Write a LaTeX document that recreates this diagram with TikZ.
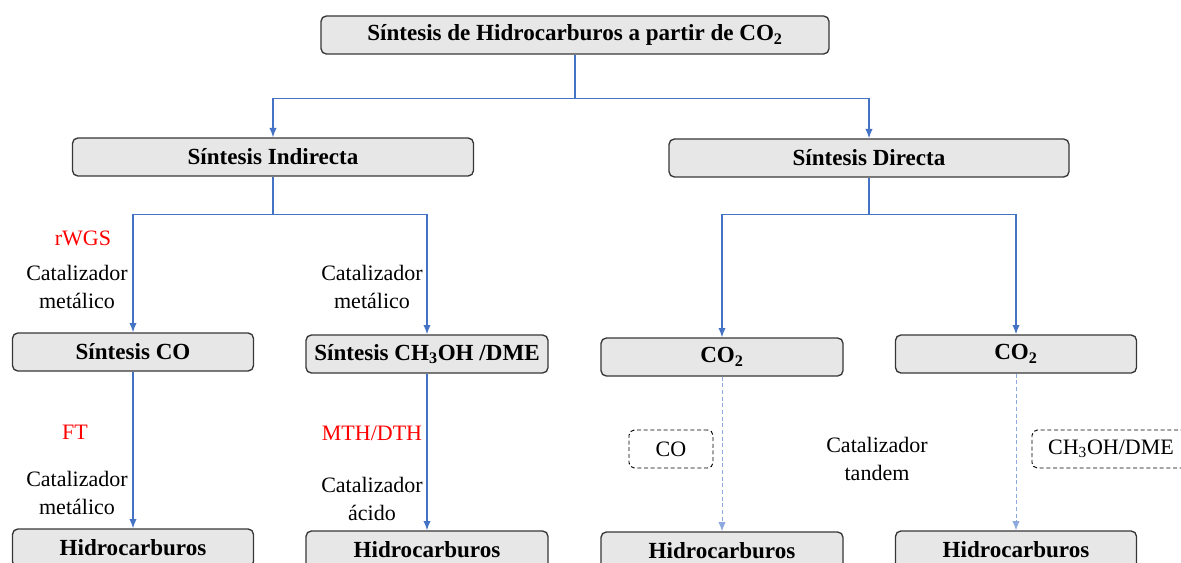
\documentclass[tikz,border=0pt]{standalone}
\usepackage{fontspec}
\setmainfont{Liberation Serif}
\usetikzlibrary{arrows.meta,positioning}
\definecolor{HcBlue}{RGB}{68,114,196}
\definecolor{HcLightBlue}{RGB}{140,168,220}
\definecolor{HcFill}{RGB}{231,231,231}
\definecolor{HcBorder}{RGB}{55,55,55}
\definecolor{HcRed}{RGB}{255,0,0}
\tikzset{
  hc/box/.style={
    draw=HcBorder,
    line width=1pt,
    rounded corners=4pt,
    fill=HcFill,
    align=center,
    minimum height=28.5pt,
    inner sep=2pt,
    font=\fontsize{17.3}{20}\selectfont\bfseries
  },
  hc/dashbox/.style={
    draw=black,
    line width=0.7pt,
    densely dashed,
    rounded corners=4pt,
    fill=white,
    align=center,
    minimum height=28.5pt,
    inner sep=2pt,
    font=\fontsize{16.5}{20}\selectfont
  },
  hc/arrow/.style={-{Latex[length=7pt,width=5.5pt]}, line width=1pt, draw=HcBlue},
  hc/dasharrow/.style={-{Latex[length=7pt,width=5.5pt]}, line width=0.7pt, densely dashed, draw=HcLightBlue},
  hc/label/.style={font=\fontsize{16.5}{21}\selectfont, align=center, text=black},
  hc/redlabel/.style={font=\fontsize{16.5}{21}\selectfont, align=center, text=HcRed}
}
\begin{document}
\begin{tikzpicture}[x=0.75pt,y=-0.75pt]
  \clip (0,0) rectangle (1181,563);
  % main boxes
  \node[hc/box,minimum width=381pt] (main) at (575,35) {Síntesis de Hidrocarburos a partir de CO\textsubscript{2}};
  \node[hc/box,minimum width=300.75pt] (indir) at (273,157) {Síntesis Indirecta};
  \node[hc/box,minimum width=300pt] (dir) at (869,158) {Síntesis Directa};
  \node[hc/box,minimum width=180.75pt] (sco) at (133,352) {Síntesis CO};
  \node[hc/box,minimum width=181.5pt] (sme) at (427,354) {Síntesis CH\textsubscript{3}OH /DME};
  \node[hc/box,minimum width=181.5pt] (coa) at (722,357) {CO\textsubscript{2}};
  \node[hc/box,minimum width=180.75pt] (cob) at (1016,354) {CO\textsubscript{2}};
  \node[hc/box,minimum width=180.75pt] (hca) at (133,548) {Hidrocarburos};
  \node[hc/box,minimum width=181.5pt] (hcb) at (427,550) {Hidrocarburos};
  \node[hc/box,minimum width=181.5pt] (hcc) at (722,551) {Hidrocarburos};
  \node[hc/box,minimum width=180.75pt] (hcd) at (1016,550) {Hidrocarburos};
  % intermediates
  \node[hc/dashbox,minimum width=63pt] (inco) at (671,449) {CO};
  \node[hc/dashbox,minimum width=118.5pt] (inme) at (1111,449) {CH\textsubscript{3}OH/DME};
  % labels
  \node[hc/redlabel] (rwgs) at (83,238) {rWGS};
  \node[hc/label] (cat1) at (77,287) {Catalizador\\metálico};
  \node[hc/label] (cat2) at (372,287) {Catalizador\\metálico};
  \node[hc/redlabel] (ft) at (75,432) {FT};
  \node[hc/label] (cat3) at (77,493) {Catalizador\\metálico};
  \node[hc/redlabel] (mth) at (372,433) {MTH/DTH};
  \node[hc/label] (cat4) at (372,499) {Catalizador\\ácido};
  \node[hc/label] (cat5) at (877,459) {Catalizador\\tandem};
  % connectors
  \draw[hc/arrow] (main.south) -- ++(0,44) -| (indir.north);
  \draw[hc/arrow] (main.south) -- ++(0,44) -| (dir.north);
  \draw[hc/arrow] (indir.south) -- ++(0,38) -| (sco.north);
  \draw[hc/arrow] (indir.south) -- ++(0,38) -| (sme.north);
  \draw[hc/arrow] (dir.south) -- ++(0,37) -| (coa.north);
  \draw[hc/arrow] (dir.south) -- ++(0,37) -| (cob.north);
  \draw[hc/arrow] (sco) -- (hca);
  \draw[hc/arrow] (sme) -- (hcb);
  \draw[hc/dasharrow] (coa) -- (hcc);
  \draw[hc/dasharrow] (cob) -- (hcd);
\end{tikzpicture}
\end{document}
